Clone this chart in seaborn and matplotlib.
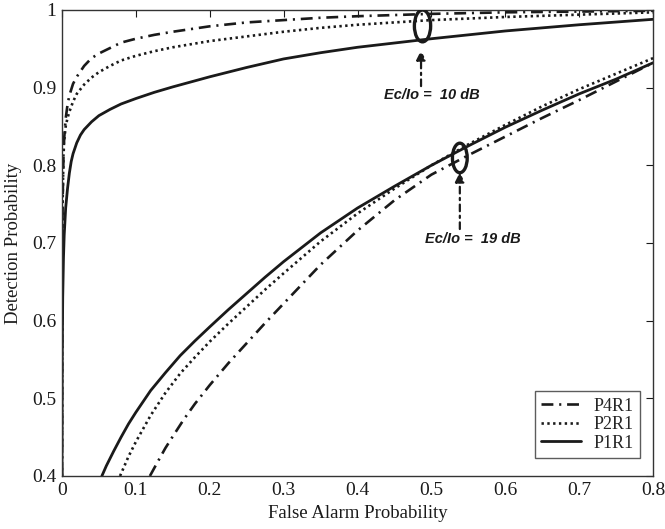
import matplotlib
matplotlib.use("Agg")
import matplotlib.pyplot as plt
import seaborn as sns
import pandas as pd
from matplotlib.patches import Ellipse

# ---- data ----
# Ec/Io = 10 dB group
p4_10_x = [0.0, 0.0002, 0.0005, 0.001, 0.002, 0.003, 0.005, 0.0075, 0.01, 0.015, 0.02, 0.03, 0.04, 0.05,
           0.065, 0.08, 0.1, 0.125, 0.15, 0.2, 0.25, 0.3, 0.35, 0.4, 0.5, 0.6, 0.7, 0.8]
p4_10_y = [0.40, 0.60, 0.70, 0.76, 0.81, 0.835, 0.86, 0.878, 0.89, 0.905, 0.914, 0.928, 0.938, 0.944,
           0.951, 0.958, 0.963, 0.968, 0.972, 0.979, 0.984, 0.987, 0.990, 0.992, 0.995, 0.997, 0.998, 0.999]
p2_10_x = [0.0, 0.0002, 0.0005, 0.001, 0.002, 0.003, 0.005, 0.0075, 0.01, 0.015, 0.02, 0.03, 0.04, 0.05,
           0.065, 0.08, 0.1, 0.125, 0.15, 0.2, 0.25, 0.3, 0.35, 0.4, 0.5, 0.6, 0.7, 0.8]
p2_10_y = [0.40, 0.58, 0.68, 0.76, 0.815, 0.832, 0.85, 0.861, 0.869, 0.882, 0.892, 0.904, 0.913, 0.92,
           0.928, 0.935, 0.941, 0.947, 0.952, 0.960, 0.966, 0.972, 0.977, 0.981, 0.987, 0.991, 0.994, 0.997]
p1_10_x = [0.0, 0.0003, 0.001, 0.002, 0.003, 0.005, 0.0075, 0.01, 0.0125, 0.015, 0.02, 0.025, 0.03, 0.04,
           0.05, 0.065, 0.08, 0.1, 0.125, 0.15, 0.2, 0.25, 0.3, 0.35, 0.4, 0.5, 0.6, 0.7, 0.8]
p1_10_y = [0.40, 0.55, 0.63, 0.68, 0.71, 0.745, 0.77, 0.79, 0.805, 0.815, 0.829, 0.839, 0.846, 0.856,
           0.864, 0.872, 0.879, 0.886, 0.894, 0.901, 0.914, 0.926, 0.937, 0.945, 0.952, 0.963, 0.973, 0.981, 0.988]

# Ec/Io = 19 dB group
p4_19_x = [0.119, 0.13, 0.14, 0.15, 0.165, 0.18, 0.2, 0.225, 0.25, 0.275, 0.3, 0.35, 0.4, 0.45, 0.5,
           0.55, 0.6, 0.65, 0.7, 0.75, 0.8]
p4_19_y = [0.40, 0.419, 0.436, 0.451, 0.473, 0.493, 0.517, 0.545, 0.571, 0.597, 0.622, 0.672, 0.716, 0.755,
           0.788, 0.813, 0.837, 0.861, 0.884, 0.908, 0.932]
p2_19_x = [0.0786, 0.09, 0.1, 0.12, 0.14, 0.16, 0.18, 0.2, 0.225, 0.25, 0.275, 0.3, 0.35, 0.4, 0.45, 0.5,
           0.55, 0.6, 0.65, 0.7, 0.75, 0.8]
p2_19_y = [0.40, 0.425, 0.444, 0.478, 0.507, 0.532, 0.553, 0.573, 0.596, 0.618, 0.640, 0.661, 0.702, 0.738,
           0.770, 0.800, 0.827, 0.852, 0.876, 0.898, 0.918, 0.938]
p1_19_x = [0.054, 0.06, 0.07, 0.08, 0.09, 0.1, 0.12, 0.14, 0.16, 0.18, 0.2, 0.225, 0.25, 0.275, 0.3, 0.35,
           0.4, 0.45, 0.5, 0.55, 0.6, 0.65, 0.7, 0.75, 0.8]
p1_19_y = [0.40, 0.413, 0.432, 0.45, 0.467, 0.482, 0.51, 0.533, 0.555, 0.574, 0.592, 0.614, 0.635, 0.656,
           0.676, 0.713, 0.745, 0.773, 0.800, 0.825, 0.849, 0.871, 0.892, 0.911, 0.932]

legend_labels = ["P4R1", "P2R1", "P1R1"]
x_ticks = [0, 0.1, 0.2, 0.3, 0.4, 0.5, 0.6, 0.7, 0.8]
x_ticklabels = ["0", "0.1", "0.2", "0.3", "0.4", "0.5", "0.6", "0.7", "0.8"]
y_ticks = [0.4, 0.5, 0.6, 0.7, 0.8, 0.9, 1.0]
y_ticklabels = ["0.4", "0.5", "0.6", "0.7", "0.8", "0.9", "1"]
annot_texts = ["Ec/Io =  10 dB", "Ec/Io =  19 dB"]

# ---- style ----
sns.set_theme(style="white")
plt.rcParams["font.family"] = ["Liberation Serif", "DejaVu Serif"]
plt.rcParams["xtick.direction"] = "in"
plt.rcParams["ytick.direction"] = "in"

fig = plt.figure(figsize=(6.65, 5.29), dpi=100)
ax = fig.add_axes([0.0932, 0.1002, 0.8888, 0.8809])

styles = {
    "P4R1": dict(linestyle=(0, (4.5, 2.2, 0.8, 2.2)), linewidth=1.9),
    "P2R1": dict(linestyle=(0, (0.9, 1.3)), linewidth=1.9),
    "P1R1": dict(linestyle="-", linewidth=2.0),
}

groups = [
    (legend_labels[0], p4_10_x, p4_10_y, p4_19_x, p4_19_y),
    (legend_labels[1], p2_10_x, p2_10_y, p2_19_x, p2_19_y),
    (legend_labels[2], p1_10_x, p1_10_y, p1_19_x, p1_19_y),
]
for name, x10, y10, x19, y19 in groups:
    df10 = pd.DataFrame({"x": x10, "y": y10})
    df19 = pd.DataFrame({"x": x19, "y": y19})
    sns.lineplot(data=df10, x="x", y="y", ax=ax, color="#1a1a1a", sort=False,
                 label=name, **styles[name])
    sns.lineplot(data=df19, x="x", y="y", ax=ax, color="#1a1a1a", sort=False,
                 label="_nolegend_", **styles[name])

ax.set_xlim(0, 0.8)
ax.set_ylim(0.4, 1.0)
ax.set_xticks(x_ticks)
ax.set_xticklabels(x_ticklabels)
ax.set_yticks(y_ticks)
ax.set_yticklabels(y_ticklabels)
ax.tick_params(axis="both", which="both", direction="in", length=5, width=0.8,
               top=True, right=True, labelsize=14, colors="#1a1a1a", pad=4)
for s in ax.spines.values():
    s.set_color("#333333")
    s.set_linewidth(1.0)
ax.set_xlabel("False Alarm Probability", fontsize=13.5, color="#1a1a1a", labelpad=5)
ax.set_ylabel("Detection Probability", fontsize=13.5, color="#1a1a1a", labelpad=7)

# ellipses and arrows
ann_font = dict(family=["Liberation Sans", "DejaVu Sans"], weight="bold", style="italic",
                fontsize=10.5, color="#1a1a1a")
ax.add_patch(Ellipse((0.488, 0.9795), 0.022, 0.041, fill=False, lw=2.4, ec="#1a1a1a", zorder=5))
ax.annotate("", xy=(0.486, 0.948), xytext=(0.486, 0.902),
            arrowprops=dict(arrowstyle="-|>", lw=1.6, ls=(0, (3, 2, 1, 2)), color="#1a1a1a",
                            mutation_scale=14, shrinkA=0, shrinkB=0))
ax.text(0.50, 0.891, annot_texts[0], ha="center", va="center", **ann_font)

ax.add_patch(Ellipse((0.5385, 0.8095), 0.020, 0.038, fill=False, lw=2.4, ec="#1a1a1a", zorder=5))
ax.annotate("", xy=(0.5385, 0.791), xytext=(0.5385, 0.718),
            arrowprops=dict(arrowstyle="-|>", lw=1.6, ls=(0, (3, 2, 1, 2)), color="#1a1a1a",
                            mutation_scale=14, shrinkA=0, shrinkB=0))
ax.text(0.556, 0.705, annot_texts[1], ha="center", va="center", **ann_font)

leg = ax.legend(loc="lower right", fontsize=13, frameon=True, fancybox=False,
                edgecolor="#333333", handlelength=2.2, borderpad=0.35, labelspacing=0.08,
                handletextpad=0.7, borderaxespad=0.0, bbox_to_anchor=(0.978, 0.039))
leg.get_frame().set_linewidth(1.0)

fig.savefig("out.png", dpi=100)
